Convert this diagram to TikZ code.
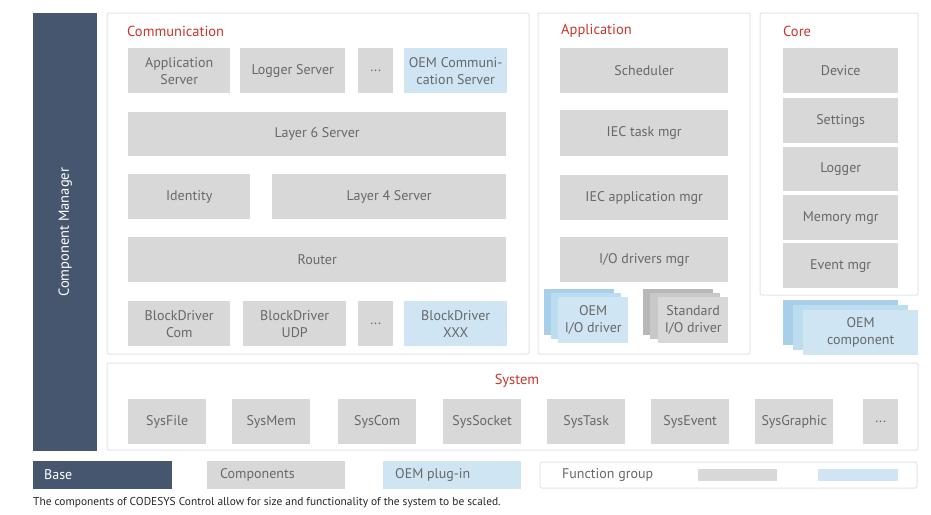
\documentclass[tikz,border=0pt]{standalone}
\usepackage{fontspec}
\setmainfont{PT Sans}
\definecolor{navy}{HTML}{47566F}
\definecolor{gbx}{HTML}{D8D8D8}
\definecolor{lblue}{HTML}{CFE5F4}
\definecolor{dblue}{HTML}{A8CFEA}
\definecolor{mblue}{HTML}{BCDCF0}
\definecolor{dgray}{HTML}{B8B8B8}
\definecolor{mgray}{HTML}{C8C8C8}
\definecolor{txt}{HTML}{686868}
\definecolor{redl}{HTML}{C8372D}
\definecolor{frame}{HTML}{E4E4E4}
\newcommand{\bxf}{\fontsize{14}{17}\selectfont}
\begin{document}
\begin{tikzpicture}[x=1pt,y=-1pt,
  box/.style={fill=gbx,draw=none,inner sep=0pt,align=center,text=txt,font=\bxf,anchor=north west},
  oem/.style={box,fill=lblue},
  grp/.style={fill=white,draw=frame,line width=1pt,rounded corners=2pt},
  glabel/.style={text=redl,font=\fontsize{14.5}{16}\selectfont,anchor=west,inner sep=0pt},
  legtxt/.style={anchor=west,text=txt,inner sep=0pt,font=\bxf},
]
\fill[white] (0,0) rectangle (931,514);
\useasboundingbox (0,0) rectangle (931,514);
% Component manager
\node[fill=navy,inner sep=0pt,minimum width=64pt,minimum height=438pt,anchor=north west] (cm) at (33,13) {};
\node[rotate=90,text=white,font=\fontsize{14.5}{16}\selectfont] (cmt) at (cm.center) {Component Manager};
% group frames
\draw[grp] (107,13) rectangle (529,354) coordinate (commf);
\draw[grp] (538,13) rectangle (750,354) coordinate (appf);
\draw[grp] (760,13) rectangle (918,295) coordinate (coref);
\draw[grp] (107,363) rectangle (918,450) coordinate (sysf);
\node[glabel] (lcomm) at (127,31) {Communication};
\node[glabel] (lapp) at (561,31) {Application};
\node[glabel] (lcore) at (783,31) {Core};
\node[glabel,anchor=center] (lsys) at (517,381) {System};
% Communication
\node[box,minimum width=102pt,minimum height=45pt] (as) at (128,48) {Application\\Server};
\node[box,minimum width=105pt,minimum height=45pt] (ls) at (240,48) {Logger Server};
\node[box,minimum width=35pt,minimum height=45pt] (d1) at (358,48) {...};
\node[oem,minimum width=103pt,minimum height=45pt] (ocs) at (404,48) {OEM Communi-\\cation Server};
\node[box,minimum width=378pt,minimum height=44pt] (l6) at (128,112) {Layer 6 Server};
\node[box,minimum width=122pt,minimum height=45pt] (id) at (128,174) {Identity};
\node[box,minimum width=234pt,minimum height=45pt] (l4) at (272,174) {Layer 4 Server};
\node[box,minimum width=378pt,minimum height=45pt] (rt) at (128,237) {Router};
\node[box,minimum width=102pt,minimum height=45pt] (bdc) at (128,301) {BlockDriver\\Com};
\node[box,minimum width=103pt,minimum height=45pt] (bdu) at (243,301) {BlockDriver\\UDP};
\node[box,minimum width=35pt,minimum height=45pt] (d2) at (358,301) {...};
\node[oem,minimum width=103pt,minimum height=45pt] (bdx) at (404,301) {BlockDriver\\XXX};
% Application
\node[box,minimum width=168pt,minimum height=45pt] (sch) at (560,48) {Scheduler};
\node[box,minimum width=168pt,minimum height=46pt] (iect) at (560,110) {IEC task mgr};
\node[box,minimum width=168pt,minimum height=45pt] (ieca) at (560,175) {IEC application mgr};
\node[box,minimum width=168pt,minimum height=45pt] (iod) at (560,237) {I/O drivers mgr};
\node[box,fill=dblue,minimum width=70pt,minimum height=46pt] (oiob) at (544,289) {};
\node[box,fill=mblue,minimum width=70pt,minimum height=46pt] (oiom) at (551,293) {};
\node[oem,minimum width=70pt,minimum height=46pt] (oio) at (558,297) {OEM\\I/O driver};
\node[box,fill=dgray,minimum width=70pt,minimum height=46pt] (siob) at (643,289) {};
\node[box,fill=mgray,minimum width=70pt,minimum height=46pt] (siom) at (650,293) {};
\node[box,minimum width=70pt,minimum height=46pt] (sio) at (658,297) {Standard\\I/O driver};
% Core
\node[box,minimum width=115pt,minimum height=45pt] (dev) at (783,48) {Device};
\node[box,minimum width=115pt,minimum height=45pt] (set) at (783,98) {Settings};
\node[box,minimum width=115pt,minimum height=44pt] (log) at (783,147) {Logger};
\node[box,minimum width=115pt,minimum height=45pt] (mem) at (783,195) {Memory mgr};
\node[box,minimum width=115pt,minimum height=45pt] (evt) at (783,243) {Event mgr};
\node[box,fill=dblue,minimum width=115pt,minimum height=45pt] (ocb) at (783,300) {};
\node[box,fill=mblue,minimum width=115pt,minimum height=45pt] (ocm) at (793,305) {};
\node[oem,minimum width=115pt,minimum height=45pt] (oc) at (803,310) {OEM\\component};
% System
\node[box,minimum width=78pt,minimum height=45pt] (sf) at (128,399) {SysFile};
\node[box,minimum width=78pt,minimum height=45pt] (sm) at (232,399) {SysMem};
\node[box,minimum width=78pt,minimum height=45pt] (sc) at (338,399) {SysCom};
\node[box,minimum width=78pt,minimum height=45pt] (ss) at (443,399) {SysSocket};
\node[box,minimum width=78pt,minimum height=45pt] (st) at (547,399) {SysTask};
\node[box,minimum width=78pt,minimum height=45pt] (se) at (651,399) {SysEvent};
\node[box,minimum width=78pt,minimum height=45pt] (sg) at (755,399) {SysGraphic};
\node[box,minimum width=35pt,minimum height=45pt] (d3) at (863,399) {...};
% Legend
\node[fill=navy,inner sep=0pt,minimum width=139pt,minimum height=28pt,anchor=north west] (base) at (33,461) {};
\node[legtxt,text=white] (baset) at (44,475) {Base};
\node[box,minimum width=138pt,minimum height=28pt] (comp) at (207,461) {};
\node[legtxt] (compt) at (220,475) {Components};
\node[oem,minimum width=138pt,minimum height=28pt] (oemp) at (383,461) {};
\node[legtxt] (oempt) at (395,475) {OEM plug-in};
\draw[grp] (540,462) rectangle (917,488) coordinate (fgf);
\node[legtxt] (fgt) at (562,475) {Function group};
\node[fill=gbx,inner sep=0pt,minimum width=79pt,minimum height=12pt,anchor=north west] (fgg) at (698,469) {};
\node[fill=lblue,inner sep=0pt,minimum width=80pt,minimum height=12pt,anchor=north west] (fgb) at (818,469) {};
% caption
\node[anchor=west,inner sep=0pt,text=black!85,font=\fontsize{11.4}{12}\selectfont] (cap) at (33,503) {The components of CODESYS Control allow for size and functionality of the system to be scaled.};
\end{tikzpicture}
\end{document}
